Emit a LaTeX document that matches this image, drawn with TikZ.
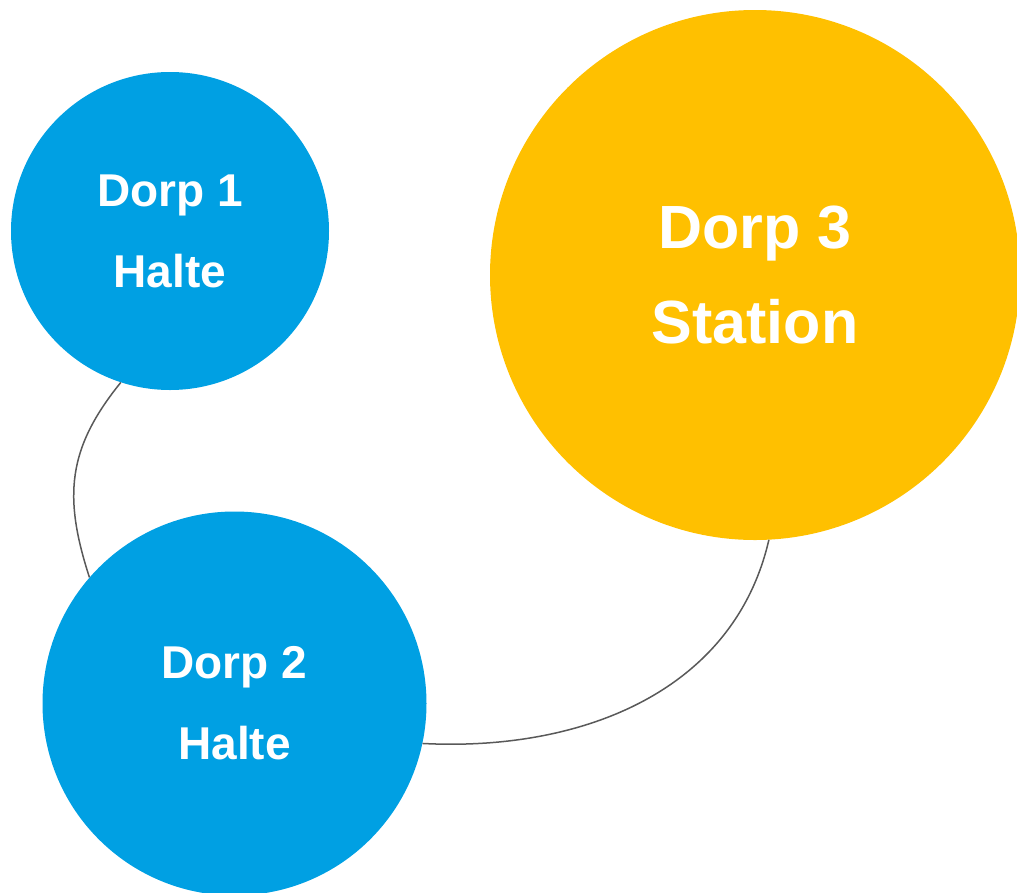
\documentclass[tikz,border=0pt]{standalone}
\usepackage{fontspec}
\setmainfont{Liberation Sans}
\definecolor{halteblue}{RGB}{0,160,227}
\definecolor{stationyellow}{RGB}{255,192,0}
\definecolor{linegray}{RGB}{89,89,89}
\tikzset{
  halte/.style={circle, fill=halteblue, text=white, inner sep=0pt, align=center,
    font=\fontsize{46}{81}\selectfont\bfseries},
  station/.style={circle, fill=stationyellow, text=white, inner sep=0pt, align=center,
    font=\fontsize{61}{95}\selectfont\bfseries},
  track/.style={draw=linegray, line width=1.5pt}
}
\begin{document}
\begin{tikzpicture}[x=1pt,y=1pt]
    \useasboundingbox (0,0) rectangle (1017,-892);
    \begin{scope}
    \clip (0,0) rectangle (1017,-892);
    \node [halte, minimum size=318pt] (dorp1) at (170,-231) {Dorp 1\\Halte};
    \node [halte, minimum size=384pt] (dorp2) at (234.5,-703.5) {Dorp 2\\Halte};
    \node [station, minimum size=530pt] (dorp3) at (755,-275) {Dorp 3\\Station};
    \end{scope}
    \draw [track] (dorp1.252) to [out=231, in=108, looseness=1.1] (dorp2.139);
    \draw [track] (dorp3.273) to [out=257, in=-3] (dorp2.348);
  \end{tikzpicture}
\end{document}
